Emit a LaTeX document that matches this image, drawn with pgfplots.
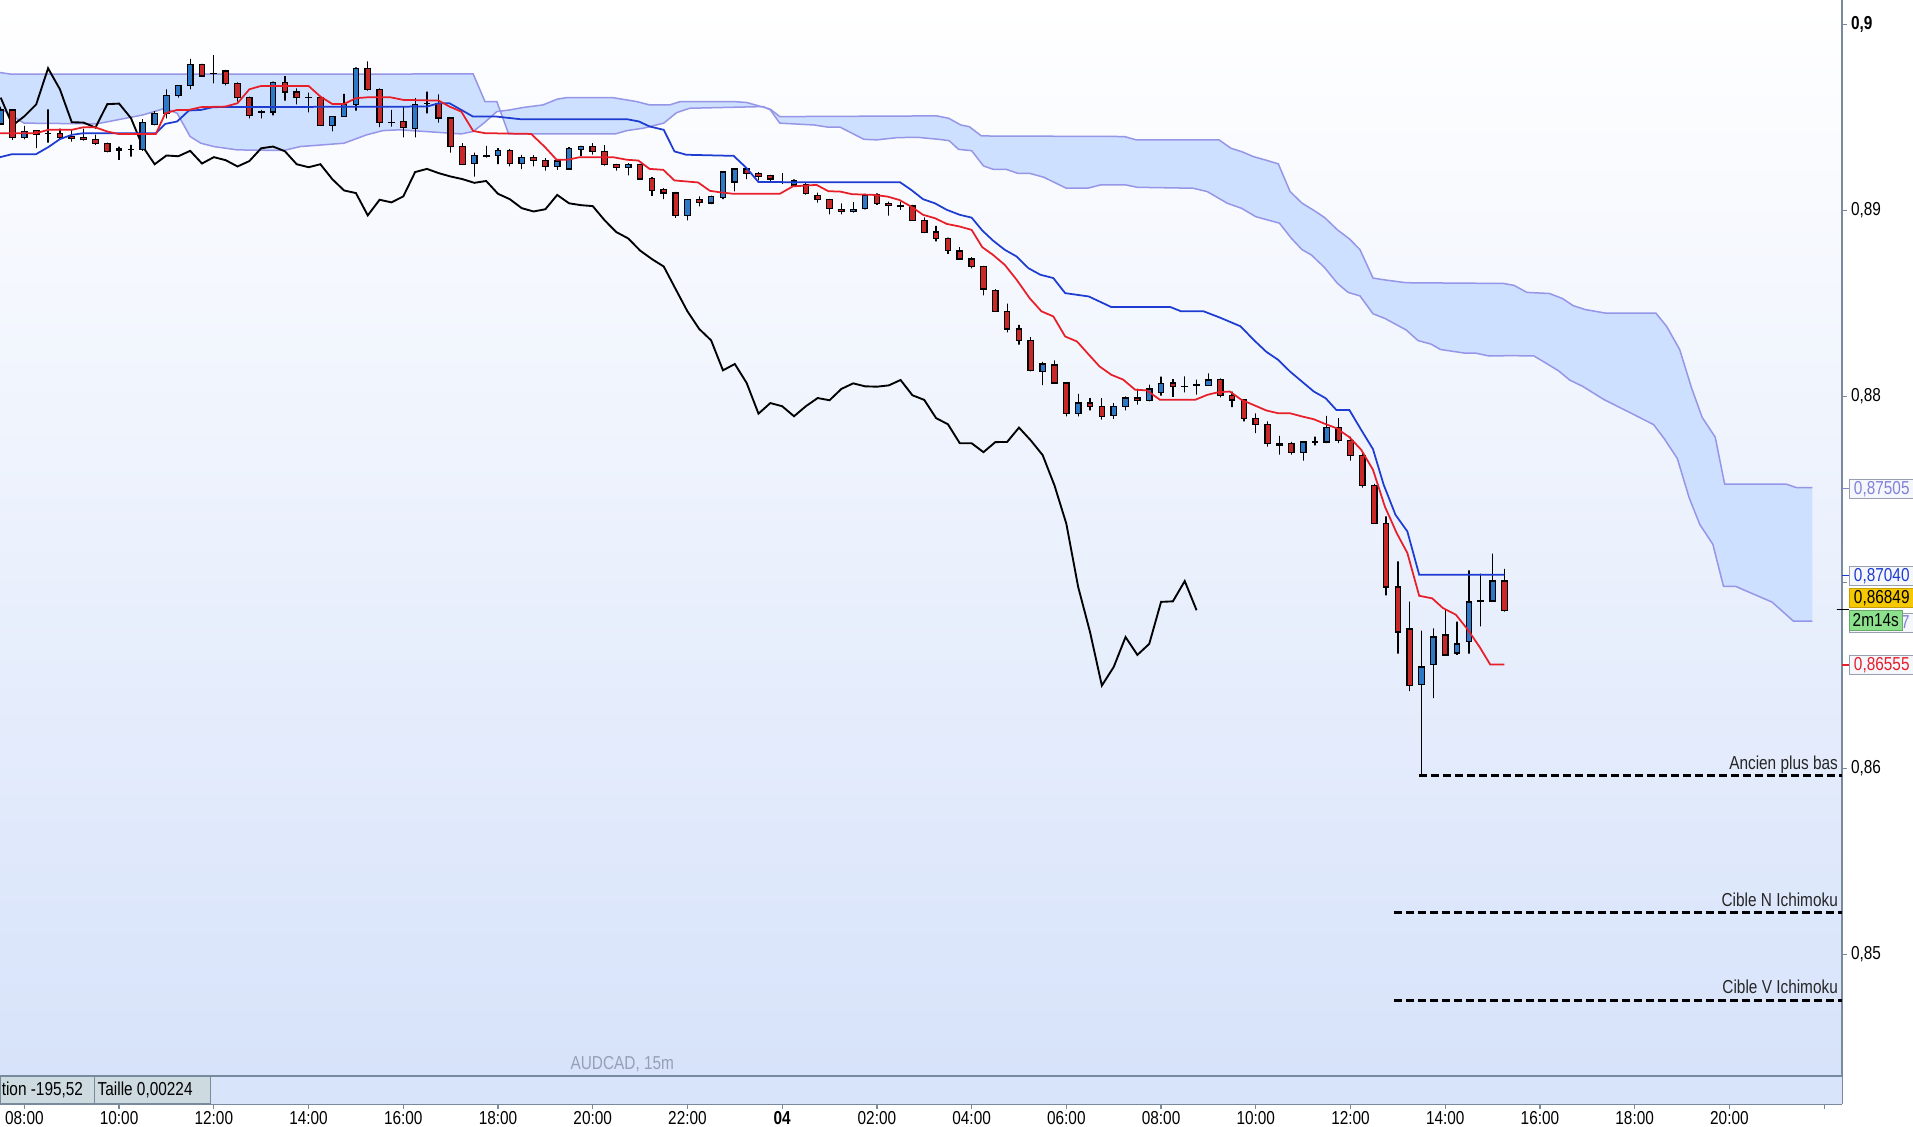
\documentclass[border=0pt]{standalone}
\usepackage{fontspec}
\setmainfont{Liberation Sans}
\newfontfamily\narrow[FakeStretch=0.82]{Liberation Sans}
\usepackage{pgfplots}
\usepackage{pgfplotstable}
\pgfplotsset{compat=1.18}

\definecolor{bgbot}{RGB}{214,226,250}
\definecolor{cloudfill}{RGB}{206,224,255}
\definecolor{cloudline}{RGB}{150,150,232}
\definecolor{upc}{RGB}{46,120,200}
\definecolor{dnc}{RGB}{200,40,40}
\definecolor{tenkan}{RGB}{232,30,40}
\definecolor{kijun}{RGB}{30,60,210}
\definecolor{axgray}{RGB}{120,138,155}
\definecolor{barfill}{RGB}{216,228,250}
\definecolor{cellfill}{RGB}{205,218,224}
\definecolor{tagborder}{RGB}{150,160,175}
\definecolor{tagfill}{RGB}{245,247,253}
\definecolor{tagpurple}{RGB}{130,130,215}
\definecolor{taggold}{RGB}{245,200,0}
\definecolor{taggreen}{RGB}{140,225,140}
\definecolor{labgray}{RGB}{150,160,180}

\pgfplotstableread{
n O H L C
-2 0.89466 0.89559 0.89460 0.89541
-1 0.89541 0.89544 0.89380 0.89394
0 0.89394 0.89455 0.89383 0.89426
1 0.89430 0.89433 0.89335 0.89412
2 0.89416 0.89544 0.89365 0.89414
3 0.89416 0.89441 0.89380 0.89394
4 0.89398 0.89437 0.89371 0.89387
5 0.89394 0.89441 0.89376 0.89383
6 0.89383 0.89408 0.89353 0.89362
7 0.89362 0.89365 0.89313 0.89319
8 0.89321 0.89344 0.89272 0.89331
9 0.89330 0.89353 0.89290 0.89329
10 0.89329 0.89491 0.89321 0.89473
11 0.89462 0.89535 0.89458 0.89523
12 0.89523 0.89652 0.89496 0.89620
13 0.89620 0.89675 0.89607 0.89673
14 0.89673 0.89815 0.89652 0.89786
15 0.89786 0.89788 0.89720 0.89723
16 0.89738 0.89836 0.89684 0.89736
17 0.89750 0.89756 0.89673 0.89684
18 0.89684 0.89689 0.89586 0.89609
19 0.89609 0.89612 0.89496 0.89512
20 0.89530 0.89541 0.89496 0.89528
21 0.89530 0.89693 0.89512 0.89689
22 0.89689 0.89723 0.89591 0.89637
23 0.89637 0.89657 0.89571 0.89609
24 0.89609 0.89634 0.89528 0.89607
25 0.89609 0.89612 0.89456 0.89458
26 0.89458 0.89507 0.89426 0.89507
27 0.89507 0.89627 0.89505 0.89571
28 0.89571 0.89770 0.89537 0.89765
29 0.89765 0.89802 0.89645 0.89652
30 0.89652 0.89657 0.89448 0.89475
31 0.89475 0.89541 0.89451 0.89473
32 0.89480 0.89559 0.89394 0.89446
33 0.89443 0.89604 0.89394 0.89572
34 0.89577 0.89640 0.89523 0.89575
35 0.89577 0.89625 0.89473 0.89497
36 0.89497 0.89502 0.89312 0.89344
37 0.89346 0.89362 0.89249 0.89249
38 0.89255 0.89312 0.89183 0.89296
39 0.89294 0.89348 0.89285 0.89292
40 0.89296 0.89335 0.89249 0.89321
41 0.89321 0.89330 0.89237 0.89253
42 0.89253 0.89299 0.89223 0.89287
43 0.89287 0.89298 0.89237 0.89271
44 0.89271 0.89282 0.89215 0.89237
45 0.89237 0.89276 0.89219 0.89266
46 0.89223 0.89341 0.89219 0.89335
47 0.89330 0.89348 0.89294 0.89344
48 0.89344 0.89362 0.89301 0.89319
49 0.89319 0.89352 0.89241 0.89249
50 0.89249 0.89251 0.89215 0.89233
51 0.89233 0.89255 0.89189 0.89249
52 0.89249 0.89251 0.89167 0.89169
53 0.89171 0.89180 0.89079 0.89108
54 0.89112 0.89121 0.89062 0.89094
55 0.89094 0.89101 0.88960 0.88974
56 0.88974 0.89062 0.88947 0.89058
57 0.89058 0.89076 0.89022 0.89044
58 0.89040 0.89080 0.89035 0.89076
59 0.89072 0.89210 0.89062 0.89207
60 0.89153 0.89228 0.89103 0.89224
61 0.89224 0.89233 0.89169 0.89201
62 0.89201 0.89207 0.89162 0.89183
63 0.89187 0.89192 0.89151 0.89169
64 0.89151 0.89201 0.89144 0.89149
65 0.89138 0.89168 0.89132 0.89159
66 0.89138 0.89147 0.89086 0.89090
67 0.89079 0.89097 0.89043 0.89061
68 0.89061 0.89063 0.88979 0.89013
69 0.89007 0.89039 0.88980 0.88995
70 0.88995 0.89045 0.88989 0.89007
71 0.89011 0.89090 0.89007 0.89084
72 0.89084 0.89093 0.89030 0.89039
73 0.89039 0.89048 0.88973 0.89029
74 0.89025 0.89048 0.89004 0.89024
75 0.89025 0.89030 0.88945 0.88948
76 0.88948 0.88964 0.88878 0.88884
77 0.88885 0.88918 0.88834 0.88850
78 0.88851 0.88855 0.88767 0.88785
79 0.88782 0.88803 0.88735 0.88739
80 0.88739 0.88749 0.88689 0.88699
81 0.88699 0.88703 0.88544 0.88578
82 0.88572 0.88578 0.88456 0.88458
83 0.88458 0.88499 0.88345 0.88363
84 0.88363 0.88386 0.88279 0.88302
85 0.88302 0.88320 0.88136 0.88141
86 0.88136 0.88187 0.88062 0.88175
87 0.88170 0.88195 0.88072 0.88073
88 0.88073 0.88078 0.87894 0.87908
89 0.87908 0.88015 0.87894 0.87965
90 0.87965 0.87992 0.87926 0.87948
91 0.87948 0.87992 0.87876 0.87894
92 0.87897 0.87965 0.87880 0.87948
93 0.87948 0.88001 0.87926 0.87992
94 0.87992 0.88041 0.87956 0.87980
95 0.87980 0.88064 0.87974 0.88041
96 0.88021 0.88107 0.88005 0.88071
97 0.88073 0.88094 0.87998 0.88055
98 0.88055 0.88109 0.88023 0.88053
99 0.88062 0.88091 0.88010 0.88060
100 0.88061 0.88125 0.88057 0.88089
101 0.88093 0.88098 0.87996 0.88007
102 0.88007 0.88027 0.87943 0.87982
103 0.87982 0.87986 0.87866 0.87884
104 0.87884 0.87910 0.87803 0.87851
105 0.87851 0.87866 0.87731 0.87749
106 0.87739 0.87789 0.87688 0.87749
107 0.87749 0.87756 0.87688 0.87701
108 0.87701 0.87756 0.87656 0.87755
109 0.87758 0.87785 0.87737 0.87756
110 0.87755 0.87896 0.87749 0.87833
111 0.87833 0.87884 0.87749 0.87764
112 0.87764 0.87785 0.87656 0.87685
113 0.87685 0.87696 0.87511 0.87522
114 0.87522 0.87531 0.87315 0.87316
115 0.87316 0.87356 0.86931 0.86976
116 0.86976 0.87114 0.86618 0.86734
117 0.86750 0.86897 0.86416 0.86446
118 0.86450 0.86741 0.85959 0.86546
119 0.86559 0.86754 0.86378 0.86707
120 0.86718 0.86854 0.86610 0.86611
121 0.86621 0.86790 0.86611 0.86670
122 0.86684 0.87066 0.86618 0.86896
123 0.86901 0.87048 0.86765 0.86899
124 0.86901 0.87155 0.86899 0.87008
125 0.87008 0.87073 0.86844 0.86851
}\candles

\pgfplotsset{common/.style={width=736.7pt, height=441.4pt, scale only axis,
  xmin=-2.06, xmax=153.49, ymin=0.84199, ymax=0.90132,
  at={(0,0)}, anchor=north west}}
\tikzset{tag/.style={anchor=west, xshift=2.9pt, draw=tagborder, fill=tagfill, line width=0.4pt,
  inner xsep=1.2pt, inner ysep=0pt, minimum height=7.8pt, minimum width=25.8pt,
  font=\narrow\fontsize{7.5}{8}\selectfont}}

\begin{document}
\begin{tikzpicture}
\path[use as bounding box] (0,0) rectangle (765.2pt,-450.4pt);
% ---------- main axis ----------
\begin{axis}[common,
  axis background/.style={top color=white, bottom color=bgbot},
  axis x line=bottom, axis y line=right,
  axis line style={axgray, line width=0.8pt, -},
  tick align=outside, major tick length=2pt,
  tick style={axgray, line width=0.5pt},
  xtick={0,8,...,152},
  xticklabels={08:00,10:00,12:00,14:00,16:00,18:00,20:00,22:00,{\bfseries 04},02:00,04:00,06:00,08:00,10:00,12:00,14:00,16:00,18:00,20:00,{}},
  ytick={0.85,0.86,0.87,0.88,0.89,0.9},
  yticklabels={{0,85},{0,86},{},{0,88},{0,89},{\bfseries 0,9}},
  xticklabel style={font=\narrow\fontsize{7.5}{8}\selectfont, inner sep=1pt},
  yticklabel style={font=\narrow\fontsize{7.5}{8}\selectfont, inner sep=1.5pt},
]
% cloud area (senkou A forward, senkou B backward)
\addplot[fill=cloudfill, draw=none, forget plot] coordinates {
(-2.06,0.89742) (-1.22,0.89734) (31.7,0.89734) (37.9,0.89735) (38.9,0.89586) (39.9,0.89586)
(40.9,0.89412) (49.9,0.89412) (50.9,0.89430) (52.3,0.89443) (54.0,0.89470) (55.1,0.89527)
(56.2,0.89550) (62.4,0.89559) (63.0,0.89541) (63.8,0.89470) (66.7,0.89460) (67.9,0.89448)
(68.9,0.89448) (70.9,0.89383) (72,0.89380) (73.7,0.89392) (75.4,0.89394) (77.2,0.89383)
(78.1,0.89376) (78.9,0.89329) (80,0.89322) (81,0.89240) (81.8,0.89222) (82.9,0.89222)
(83.9,0.89200) (84.9,0.89200) (86.1,0.89179) (88,0.89120) (89.8,0.89120) (90.9,0.89138)
(93,0.89138) (94,0.89125) (98.7,0.89120) (99.9,0.89102) (101.6,0.89039) (102.8,0.89012)
(104,0.88967) (106,0.88932) (107,0.88851) (107.9,0.88790) (108.7,0.88761) (109.8,0.88694)
(110.9,0.88608) (111.8,0.88560) (112.8,0.88541) (113.9,0.88445) (114.9,0.88420) (116.7,0.88358)
(117.7,0.88301) (118.8,0.88282) (119.6,0.88253) (121.7,0.88233) (122.6,0.88233) (123.7,0.88218)
(125.6,0.88220) (127.5,0.88218) (128.6,0.88176) (129.6,0.88137) (130.5,0.88089) (131.6,0.88055)
(133.4,0.87984) (135.5,0.87917) (137.6,0.87849) (138.5,0.87773) (139.6,0.87667) (140.6,0.87456)
(141.5,0.87312) (142.6,0.87206) (143.5,0.86980) (144.5,0.86980) (145.7,0.86947) (147.6,0.86895)
(149.4,0.86793) (151,0.86793)
(151,0.87510) (149.7,0.87510) (148.8,0.87529) (143.6,0.87529) (142.8,0.87782) (141.7,0.87888)
(140.8,0.88047) (139.8,0.88253) (138.7,0.88377) (137.8,0.88448) (133.6,0.88448) (131.8,0.88468)
(130.8,0.88489) (129.9,0.88527) (128.8,0.88554) (126.9,0.88560) (125.8,0.88598) (124.9,0.88608)
(116.7,0.88612) (114.9,0.88627) (113.9,0.88637) (112.8,0.88790) (111.9,0.88848) (110.9,0.88896)
(109.8,0.88963) (108.9,0.89001) (107.9,0.89040) (106.9,0.89102) (105.9,0.89251) (104.8,0.89272)
(103.8,0.89290) (102.8,0.89317) (101.9,0.89335) (100.9,0.89380) (93.9,0.89380) (92.9,0.89398)
(80.83,0.89401) (79.8,0.89451) (79.09,0.89460) (78.07,0.89496) (77.05,0.89509) (63.8,0.89505)
(63.0,0.89545) (61.0,0.89581) (59.9,0.89586) (55.4,0.89586) (54.5,0.89568) (52.8,0.89568)
(51.7,0.89586) (49.7,0.89607) (45.8,0.89607) (45.0,0.89599) (43.8,0.89568) (42.1,0.89554)
(41.0,0.89541) (39.9,0.89532) (38.8,0.89470) (37.9,0.89425) (36.9,0.89412) (31.7,0.89434)
(30.3,0.89430) (28.9,0.89407) (27.0,0.89362) (23.3,0.89344) (21.9,0.89323) (18.0,0.89326)
(16.0,0.89344) (14.9,0.89362) (14.0,0.89398) (12.9,0.89523) (11.9,0.89550) (10.0,0.89514)
(6.1,0.89466) (-0.03,0.89470) (-2.06,0.89550)};
% senkou span A
\addplot[cloudline, line width=0.6pt] coordinates {
(-2.06,0.89742) (-1.22,0.89734) (31.7,0.89734) (37.9,0.89735) (38.9,0.89586) (39.9,0.89586)
(40.9,0.89412) (49.9,0.89412) (50.9,0.89430) (52.3,0.89443) (54.0,0.89470) (55.1,0.89527)
(56.2,0.89550) (62.4,0.89559) (63.0,0.89541) (63.8,0.89470) (66.7,0.89460) (67.9,0.89448)
(68.9,0.89448) (70.9,0.89383) (72,0.89380) (73.7,0.89392) (75.4,0.89394) (77.2,0.89383)
(78.1,0.89376) (78.9,0.89329) (80,0.89322) (81,0.89240) (81.8,0.89222) (82.9,0.89222)
(83.9,0.89200) (84.9,0.89200) (86.1,0.89179) (88,0.89120) (89.8,0.89120) (90.9,0.89138)
(93,0.89138) (94,0.89125) (98.7,0.89120) (99.9,0.89102) (101.6,0.89039) (102.8,0.89012)
(104,0.88967) (106,0.88932) (107,0.88851) (107.9,0.88790) (108.7,0.88761) (109.8,0.88694)
(110.9,0.88608) (111.8,0.88560) (112.8,0.88541) (113.9,0.88445) (114.9,0.88420) (116.7,0.88358)
(117.7,0.88301) (118.8,0.88282) (119.6,0.88253) (121.7,0.88233) (122.6,0.88233) (123.7,0.88218)
(125.6,0.88220) (127.5,0.88218) (128.6,0.88176) (129.6,0.88137) (130.5,0.88089) (131.6,0.88055)
(133.4,0.87984) (135.5,0.87917) (137.6,0.87849) (138.5,0.87773) (139.6,0.87667) (140.6,0.87456)
(141.5,0.87312) (142.6,0.87206) (143.5,0.86980) (144.5,0.86980) (145.7,0.86947) (147.6,0.86895)
(149.4,0.86793) (151,0.86793)};
% senkou span B
\addplot[cloudline, line width=0.6pt] coordinates {
(-2.06,0.89550) (-0.03,0.89470) (6.1,0.89466) (10.0,0.89514) (11.9,0.89550) (12.9,0.89523)
(14.0,0.89398) (14.9,0.89362) (16.0,0.89344) (18.0,0.89326) (21.9,0.89323) (23.3,0.89344)
(27.0,0.89362) (28.9,0.89407) (30.3,0.89430) (31.7,0.89434) (36.9,0.89412) (37.9,0.89425)
(38.8,0.89470) (39.9,0.89532) (41.0,0.89541) (42.1,0.89554) (43.8,0.89568) (45.0,0.89599)
(45.8,0.89607) (49.7,0.89607) (51.7,0.89586) (52.8,0.89568) (54.5,0.89568) (55.4,0.89586)
(59.9,0.89586) (61.0,0.89581) (63.0,0.89545) (63.8,0.89505) (77.05,0.89509) (78.07,0.89496)
(79.09,0.89460) (79.8,0.89451) (80.83,0.89401) (92.9,0.89398) (93.9,0.89380) (100.9,0.89380)
(101.9,0.89335) (102.8,0.89317) (103.8,0.89290) (104.8,0.89272) (105.9,0.89251) (106.9,0.89102)
(107.9,0.89040) (108.9,0.89001) (109.8,0.88963) (110.9,0.88896) (111.9,0.88848) (112.8,0.88790)
(113.9,0.88637) (114.9,0.88627) (116.7,0.88612) (124.9,0.88608) (125.8,0.88598) (126.9,0.88560)
(128.8,0.88554) (129.9,0.88527) (130.8,0.88489) (131.8,0.88468) (133.6,0.88448) (137.8,0.88448)
(138.7,0.88377) (139.8,0.88253) (140.8,0.88047) (141.7,0.87888) (142.8,0.87782) (143.6,0.87529)
(148.8,0.87529) (149.7,0.87510) (151,0.87510)};
% status bar
\fill[barfill] (axis cs:-2.06,0.84199) rectangle (axis cs:153.49,0.84345);
\filldraw[fill=cellfill, draw=axgray, line width=0.5pt] (axis cs:-2.06,0.84199) rectangle (axis cs:5.91,0.84345);
\filldraw[fill=cellfill, draw=axgray, line width=0.5pt] (axis cs:5.91,0.84199) rectangle (axis cs:15.72,0.84345);
\draw[axgray, line width=0.8pt] (axis cs:-2.06,0.84345) -- (axis cs:153.49,0.84345);
\node[anchor=west, inner sep=0pt, font=\narrow\fontsize{7.5}{8}\selectfont] at (axis cs:-1.95,0.84272) {tion -195,52};
\node[anchor=west, inner sep=0pt, font=\narrow\fontsize{7.5}{8}\selectfont] at (axis cs:6.15,0.84272) {Taille 0,00224};
\node[text=labgray, font=\narrow\fontsize{7.5}{8}\selectfont] at (axis cs:50.5,0.84412) {AUDCAD, 15m};
% chikou span
\addplot[black, line width=0.75pt] coordinates {
(-2,0.89607) (-1,0.89458) (0,0.89507) (1,0.89571) (2,0.89765) (3,0.89652) (4,0.89475) (5,0.89473)
(6,0.89446) (7,0.89572) (8,0.89575) (9,0.89497) (10,0.89344) (11,0.89249) (12,0.89296) (13,0.89292)
(14,0.89321) (15,0.89253) (16,0.89287) (17,0.89271) (18,0.89237) (19,0.89266) (20,0.89335) (21,0.89344)
(22,0.89319) (23,0.89249) (24,0.89233) (25,0.89249) (26,0.89169) (27,0.89108) (28,0.89094) (29,0.88974)
(30,0.89058) (31,0.89044) (32,0.89076) (33,0.89207) (34,0.89224) (35,0.89201) (36,0.89183) (37,0.89169)
(38,0.89149) (39,0.89159) (40,0.89090) (41,0.89061) (42,0.89013) (43,0.88995) (44,0.89007) (45,0.89084)
(46,0.89039) (47,0.89029) (48,0.89024) (49,0.88948) (50,0.88884) (51,0.88850) (52,0.88785) (53,0.88739)
(54,0.88699) (55,0.88578) (56,0.88458) (57,0.88363) (58,0.88302) (59,0.88141) (60,0.88175) (61,0.88073)
(62,0.87908) (63,0.87965) (64,0.87948) (65,0.87894) (66,0.87948) (67,0.87992) (68,0.87980) (69,0.88041)
(70,0.88071) (71,0.88055) (72,0.88053) (73,0.88060) (74,0.88089) (75,0.88007) (76,0.87982) (77,0.87884)
(78,0.87851) (79,0.87749) (80,0.87749) (81,0.87701) (82,0.87755) (83,0.87756) (84,0.87833) (85,0.87764)
(86,0.87685) (87,0.87522) (88,0.87316) (89,0.86976) (90,0.86734) (91,0.86446) (92,0.86546) (93,0.86707)
(94,0.86611) (95,0.86670) (96,0.86896) (97,0.86899) (98,0.87008) (99,0.86851)};
% target lines
\draw[black, line width=1.1pt, dash pattern=on 3.2pt off 1.6pt] (axis cs:117.8,0.85961) -- (axis cs:153.49,0.85961);
\draw[black, line width=1.1pt, dash pattern=on 3.2pt off 1.6pt] (axis cs:115.7,0.85226) -- (axis cs:153.49,0.85226);
\draw[black, line width=1.1pt, dash pattern=on 3.2pt off 1.6pt] (axis cs:115.7,0.84754) -- (axis cs:153.49,0.84754);
\node[anchor=base east, inner sep=0pt, yshift=2.6pt, text=black!85, font=\narrow\fontsize{7.5}{8}\selectfont] at (axis cs:153.2,0.85961) {Ancien plus bas};
\node[anchor=base east, inner sep=0pt, yshift=2.6pt, text=black!85, font=\narrow\fontsize{7.5}{8}\selectfont] at (axis cs:153.2,0.85226) {Cible N Ichimoku};
\node[anchor=base east, inner sep=0pt, yshift=2.6pt, text=black!85, font=\narrow\fontsize{7.5}{8}\selectfont] at (axis cs:153.2,0.84754) {Cible V Ichimoku};
\end{axis}
% ---------- wicks (low to high) ----------
\begin{axis}[common, hide axis, ybar stacked, bar width=0]
\addplot[draw=none, fill=none] table[x=n, y=L] {\candles};
\addplot[draw=black, fill=none, line width=0.5pt] table[x=n, y expr={\thisrow{H}-\thisrow{L}}] {\candles};
\end{axis}
% ---------- candle bodies ----------
\begin{axis}[common, hide axis, ybar stacked, bar width=0.46]
\addplot[draw=none, fill=none] table[x=n, y expr={min(\thisrow{O},\thisrow{C})}] {\candles};
\addplot[draw=black, fill=upc, line width=0.5pt] table[x=n, y expr={max(\thisrow{C}-\thisrow{O},0)}] {\candles};
\addplot[draw=black, fill=dnc, line width=0.5pt] table[x=n, y expr={max(\thisrow{O}-\thisrow{C},0)}] {\candles};
\end{axis}
% ---------- kijun, tenkan and price tags ----------
\begin{axis}[common, hide axis, clip=false]
\addplot[kijun, line width=0.7pt] coordinates {
(-2.06,0.89287) (-1.05,0.89303) (0.98,0.89303) (2.02,0.89341) (3.0,0.89384) (4.0,0.89407) (5.0,0.89416)
(11.1,0.89416) (11.9,0.89466) (12.9,0.89479) (13.9,0.89538) (14.9,0.89541) (15.96,0.89556) (34.0,0.89559)
(35.0,0.89577) (35.9,0.89577) (36.9,0.89541) (37.9,0.89505) (39.9,0.89505) (41.9,0.89491) (50.9,0.89491)
(51.9,0.89479) (52.8,0.89452) (54.0,0.89434) (54.9,0.89318) (55.9,0.89300) (59.9,0.89294) (61.0,0.89228)
(62.0,0.89153) (73.96,0.89152) (74.9,0.89111) (75.9,0.89061) (76.9,0.89039) (77.9,0.89004) (79.0,0.88977)
(80.0,0.88962) (80.9,0.88893) (81.8,0.88839) (82.8,0.88789) (83.8,0.88753) (84.8,0.88690) (85.8,0.88655)
(86.9,0.88637) (87.9,0.88556) (89.9,0.88538) (90.8,0.88511) (91.8,0.88481) (96.8,0.88481) (97.7,0.88458)
(99.6,0.88458) (100.95,0.88425) (102.7,0.88378) (103.9,0.88300) (104.9,0.88240) (105.9,0.88197)
(106.9,0.88134) (108.9,0.88027) (109.9,0.87991) (110.8,0.87928) (111.9,0.87928) (112.9,0.87821)
(113.9,0.87717) (114.8,0.87526) (115.8,0.87364) (116.8,0.87275) (117.8,0.87042) (125,0.87042)};
\addplot[tenkan, line width=0.7pt] coordinates {
(-2.06,0.89416) (0.98,0.89416) (2.02,0.89434) (4.0,0.89434) (5.0,0.89448) (5.96,0.89448) (7.0,0.89425)
(8.0,0.89411) (11.1,0.89411) (11.9,0.89523) (12.9,0.89541) (13.9,0.89541) (14.9,0.89556) (16.97,0.89559)
(18.0,0.89577) (19.0,0.89652) (20.0,0.89670) (24.0,0.89670) (25.0,0.89613) (26.0,0.89573) (27.0,0.89573)
(28.0,0.89604) (29.0,0.89609) (30.9,0.89609) (32.0,0.89595) (35.0,0.89591) (35.9,0.89559) (36.9,0.89532)
(37.9,0.89428) (38.9,0.89416) (42.8,0.89412) (43.97,0.89341) (44.95,0.89273) (45.9,0.89273) (46.9,0.89287)
(49.7,0.89287) (50.9,0.89273) (51.85,0.89269) (52.8,0.89224) (53.96,0.89219) (54.9,0.89162) (56.9,0.89151)
(57.9,0.89106) (58.9,0.89097) (59.9,0.89090) (63.8,0.89090) (64.9,0.89130) (66.9,0.89138) (67.9,0.89104)
(68.9,0.89102) (69.9,0.89088) (71.8,0.89084) (72.9,0.89075) (73.9,0.89057) (74.9,0.89021) (75.9,0.88977)
(76.9,0.88959) (77.9,0.88928) (79.0,0.88914) (80.0,0.88896) (80.9,0.88803) (81.8,0.88762) (82.8,0.88708)
(83.8,0.88628) (84.9,0.88529) (85.9,0.88458) (86.9,0.88431) (87.9,0.88323) (88.9,0.88296) (89.9,0.88225)
(90.8,0.88162) (91.8,0.88117) (92.8,0.88091) (93.8,0.88037) (94.8,0.88033) (95.9,0.87983) (98.9,0.87983)
(99.9,0.88009) (100.8,0.88023) (101.8,0.88027) (102.8,0.87982) (103.8,0.87955) (104.9,0.87925)
(105.9,0.87910) (106.9,0.87910) (107.9,0.87893) (108.9,0.87878) (109.85,0.87853) (110.8,0.87830)
(111.9,0.87782) (112.9,0.87714) (113.9,0.87606) (114.9,0.87409) (115.9,0.87266) (116.8,0.87159)
(117.8,0.86929) (118.9,0.86915) (119.8,0.86863) (120.9,0.86827) (121.9,0.86747) (122.9,0.86654)
(123.8,0.86559) (125,0.86559)};
% price tags
\draw[tagpurple, line width=0.5pt] (axis cs:153.49,0.87504) -- ++(2.9pt,0pt);
\draw[kijun, line width=0.5pt] (axis cs:153.49,0.87036) -- ++(2.9pt,0pt);
\draw[black, line width=0.6pt] (axis cs:153.49,0.86856) -- ++(-2pt,0pt) -- ++(4.9pt,0pt);
\draw[tenkan, line width=0.5pt] (axis cs:153.49,0.86557) -- ++(2.9pt,0pt);
\node[tag, text=tagpurple] at (axis cs:153.49,0.87504) {0,87505};
\node[tag, text=kijun] at (axis cs:153.49,0.87036) {0,87040};
\node[tag, text=tenkan] at (axis cs:153.49,0.86557) {0,86555};
\node[tag, text=tagpurple] at (axis cs:153.49,0.86783) {0,86797};
\node[tag, fill=taggreen, draw=taggreen!75!black, minimum width=21pt, text=black] at (axis cs:153.49,0.86796) {2m14s};
\node[tag, fill=taggold, draw=taggold!80!black, text=black] at (axis cs:153.49,0.86918) {0,86849};
\end{axis}
\end{tikzpicture}
\end{document}
